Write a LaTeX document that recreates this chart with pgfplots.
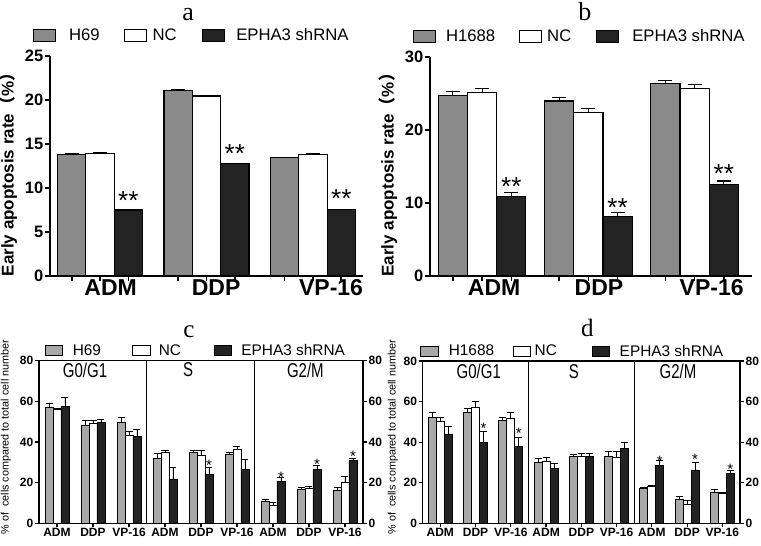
\documentclass[border=0pt]{standalone}
\usepackage{fontspec}
\setmainfont{Liberation Sans}
\newfontfamily\serifT{Liberation Serif}
\newfontfamily\cjk{Noto Sans CJK SC}
\usepackage{graphicx}
\usepackage{pgfplots}
\pgfplotsset{compat=1.18}
\definecolor{gA}{HTML}{8A8A8A}
\definecolor{gC}{HTML}{A8A8A8}
\definecolor{dk}{HTML}{232323}
\newcommand{\fs}[1]{\fontsize{#1bp}{#1bp}\selectfont}
\newcommand{\gap}[1]{\rule{#1bp}{0pt}}
\pgfplotsset{
  legAB/.style={legend image code/.code={\draw[##1] (0bp,-6bp) rectangle (22bp,6bp);}},
  legCD/.style={legend image code/.code={\draw[##1] (0bp,-5bp) rectangle (17.5bp,5bp);}},
  common/.style={scale only axis, anchor=south west, clip=false,
    /pgf/number format/assume math mode=true, tick align=outside,
    legend columns=3,
    legend style={draw=none, fill=none, inner sep=0pt, outer sep=0pt, anchor=west,
      nodes={inner sep=0pt, outer sep=0pt},
      /tikz/every even column/.style={column sep=0pt},
      /tikz/every odd column/.style={column sep=0pt}},
    legend cell align=left},
  abax/.style={common, axis x line*=bottom, axis y line*=left,
    axis line style={line width=1.8bp, black}, major tick length=5bp,
    tick style={line width=1.6bp, black}, ymin=0,
    yticklabel style={font=\fs{16.5}\bfseries, inner sep=1.5bp},
    xticklabels={},
    extra x tick style={major tick length=0pt, xticklabel style={font=\fs{23}\bfseries, inner sep=3bp}},
    extra x tick labels={ADM,DDP,VP-16},
    legAB, legend style={font=\fs{16.7}},
    ylabel style={font=\fs{17}\bfseries, anchor=center},
    title style={font=\serifT\fs{26}, anchor=center, yshift=-6pt}},
  errAB/.style={error bars/.cd, y dir=plus, y explicit,
    error bar style={line width=1.1bp, black},
    error mark options={rotate=90, line width=1.1bp, mark size=7bp, black}},
  errCD/.style={error bars/.cd, y dir=plus, y explicit,
    error bar style={line width=0.8bp, black},
    error mark options={rotate=90, line width=0.8bp, mark size=3.5bp, black}},
  cdax/.style={common, xmin=-0.5, xmax=8.5, ymin=0, ymax=80, ytick={0,20,...,80},
    ytick pos=left, xtick pos=left, xtick={0,...,8},
    xticklabels={ADM,DDP,VP-16,ADM,DDP,VP-16,ADM,DDP,VP-16},
    major tick length=4bp, axis line style={line width=1.3bp, black},
    tick style={line width=1.2bp, black},
    yticklabel style={font=\fs{12}\bfseries, inner sep=1.5bp},
    xticklabel style={font=\fs{12}\bfseries, inner sep=1bp},
    extra x ticks={2.5,5.5}, extra x tick labels={},
    extra x tick style={grid=major, major grid style={black, line width=1bp}, major tick length=0pt},
    legCD, legend style={font=\fs{15.4}},
    ylabel style={font=\fs{10.8}, anchor=center},
    title style={font=\serifT\fs{25}, anchor=center, yshift=-6pt}},
  cdright/.style={scale only axis, anchor=south west, xmin=0, xmax=1, ymin=0, ymax=80,
    ytick={0,20,...,80}, axis x line=none, axis y line*=right, tick align=outside,
    /pgf/number format/assume math mode=true,
    major tick length=4bp, axis line style={line width=1.3bp, black},
    tick style={line width=1.2bp, black},
    yticklabel style={font=\fs{12}\bfseries, inner sep=1.5bp}},
  starsAB/.style={only marks, mark=none, nodes near coords, point meta=explicit symbolic,
    nodes near coords style={anchor=base, font=\fs{26}, inner sep=0pt, black}},
  starsCD/.style={only marks, mark=none, nodes near coords, point meta=explicit symbolic,
    nodes near coords style={anchor=base, font=\fs{15}, inner sep=0pt, black}},
}
\begin{document}
\begin{tikzpicture}
\path[use as bounding box] (0bp,0bp) rectangle (761bp,-546bp);

% ---------------- panel a ----------------
\begin{axis}[abax, at={(50bp,-276bp)}, width=313bp, height=220bp,
  xmin=-0.47, xmax=2.47, ymax=25, ytick={0,5,...,25},
  xtick={-0.266,0,0.266,0.734,1,1.266,1.734,2,2.266},
  extra x ticks={0.10,1.09,2.17},
  ylabel={Early apoptosis rate{\cjk （}\%{\cjk ）}},
  ylabel style={at={(axis description cs:-0.134,0.48)}},
  title={a}, title style={at={(axis description cs:0.441,1.19)}},
  legend style={at={(-0.0543,1.093)}}]
\addlegendimage{fill=gA, draw=black, line width=1bp}\addlegendentry{\gap{13}H69\gap{24}}
\addlegendimage{fill=white, draw=black, line width=1bp}\addlegendentry{\gap{6}NC\gap{25.5}}
\addlegendimage{fill=dk, draw=black, line width=1bp}\addlegendentry{\gap{11}EPHA3 shRNA}
\addplot[ybar, bar width=0.266, bar shift=0, fill=gA, draw=black, line width=1.1bp, errAB]
  coordinates {(-0.266,13.85) +- (0,0.05) (0.734,21.1) +- (0,0.05) (1.734,13.45) +- (0,0.05)};
\addplot[ybar, bar width=0.266, bar shift=0, fill=white, draw=black, line width=1.1bp, errAB]
  coordinates {(0,13.95) +- (0,0.05) (1,20.45) +- (0,0.05) (2,13.85) +- (0,0.05)};
\addplot[ybar, bar width=0.266, bar shift=0, fill=dk, draw=black, line width=1.1bp, errAB]
  coordinates {(0.266,7.5) +- (0,0.05) (1.266,12.75) +- (0,0.05) (2.266,7.55) +- (0,0.05)};
\addplot[starsAB] coordinates {(0.266,7.6) [**] (1.266,12.9) [**] (2.266,7.8) [**]};
\end{axis}

% ---------------- panel b ----------------
\begin{axis}[abax, at={(430bp,-276bp)}, width=322bp, height=219.3bp,
  xmin=-0.49, xmax=2.54, ymax=30, ytick={0,10,20,30},
  xtick={-0.275,0,0.275,0.725,1,1.275,1.725,2,2.275},
  extra x ticks={0.113,1.10,2.16},
  ylabel={Early apoptosis rate{\cjk （}\%{\cjk ）}},
  ylabel style={at={(axis description cs:-0.130,0.48)}},
  title={b}, title style={at={(axis description cs:0.481,1.205)}},
  legend style={at={(-0.0528,1.094)}}]
\addlegendimage{fill=gA, draw=black, line width=1bp}\addlegendentry{\gap{10}H1688\gap{24}}
\addlegendimage{fill=white, draw=black, line width=1bp}\addlegendentry{\gap{5}NC\gap{25}}
\addlegendimage{fill=dk, draw=black, line width=1bp}\addlegendentry{\gap{13}EPHA3 shRNA}
\addplot[ybar, bar width=0.275, bar shift=0, fill=gA, draw=black, line width=1.1bp, errAB]
  coordinates {(-0.275,24.67) +- (0,0.55) (0.725,23.94) +- (0,0.5) (1.725,26.3) +- (0,0.5)};
\addplot[ybar, bar width=0.275, bar shift=0, fill=white, draw=black, line width=1.1bp, errAB]
  coordinates {(0,25.1) +- (0,0.5) (1,22.4) +- (0,0.55) (2,25.7) +- (0,0.55)};
\addplot[ybar, bar width=0.275, bar shift=0, fill=dk, draw=black, line width=1.1bp, errAB]
  coordinates {(0.275,10.85) +- (0,0.55) (1.275,8.2) +- (0,0.5) (2.275,12.5) +- (0,0.5)};
\addplot[starsAB] coordinates {(0.275,10.95) [**] (1.275,8.2) [**] (2.275,12.8) [**]};
\end{axis}

% ---------------- panel c ----------------
\begin{axis}[cdax, at={(39bp,-523.3bp)}, width=324bp, height=162.6bp,
  ylabel={\% of\ \ cells compared to total cell number},
  ylabel style={at={(axis description cs:-0.102,0.53)}},
  title={c}, title style={at={(axis description cs:0.463,1.18)}},
  legend style={at={(0.0185,1.063)}}]
\addlegendimage{fill=gC, draw=black, line width=0.8bp}\addlegendentry{\gap{9.5}H69\gap{31}}
\addlegendimage{fill=white, draw=black, line width=0.8bp}\addlegendentry{\gap{8.5}NC\gap{32.5}}
\addlegendimage{fill=dk, draw=black, line width=0.8bp}\addlegendentry{\gap{9.5}EPHA3 shRNA}
\addplot[ybar, bar width=0.222, bar shift=0, fill=gC, draw=black, line width=0.8bp, errCD]
  coordinates {(-0.222,57.0) +- (0,2.0) (0.778,48.4) +- (0,2.1) (1.778,49.7) +- (0,2.4)
               (2.778,32.0) +- (0,2.5) (3.778,34.9) +- (0,1.1) (4.778,34.1) +- (0,1.0)
               (5.778,10.8) +- (0,1.1) (6.778,16.9) +- (0,1.0) (7.778,16.4) +- (0,1.1)};
\addplot[ybar, bar width=0.222, bar shift=0, fill=white, draw=black, line width=0.8bp, errCD]
  coordinates {(0,56.1) +- (0,0.5) (1,49.2) +- (0,1.6) (2,43.4) +- (0,2.0)
               (3,34.9) +- (0,1.1) (4,33.6) +- (0,2.3) (5,36.6) +- (0,1.1)
               (6,9.0) +- (0,1.1) (7,17.4) +- (0,0.7) (8,20.2) +- (0,2.8)};
\addplot[ybar, bar width=0.222, bar shift=0, fill=dk, draw=black, line width=0.8bp, errCD]
  coordinates {(0.222,57.5) +- (0,4.4) (1.222,49.5) +- (0,1.6) (2.222,42.9) +- (0,3.3)
               (3.222,21.8) +- (0,5.7) (4.222,24.1) +- (0,3.4) (5.222,26.7) +- (0,4.8)
               (6.222,20.8) +- (0,1.6) (7.222,26.6) +- (0,2.1) (8.222,30.8) +- (0,1.1)};
\addplot[starsCD] coordinates {(4.222,26.0) [*] (6.222,20.3) [*] (7.222,26.5) [*] (8.222,30.2) [*]};
\node[font=\fs{20}] at (axis cs:0.78,75.4) {\scalebox{0.75}[1]{G0/G1}};
\node[font=\fs{20}] at (axis cs:3.64,75.4) {\scalebox{0.75}[1]{S}};
\node[font=\fs{20}] at (axis cs:6.90,75.4) {\scalebox{0.75}[1]{G2/M}};
\end{axis}
\begin{axis}[cdright, at={(39bp,-523.3bp)}, width=324bp, height=162.6bp]
\end{axis}

% ---------------- panel d ----------------
\begin{axis}[cdax, at={(422.7bp,-523.3bp)}, width=317.3bp, height=162.3bp,
  ylabel={\% of\ \ cells compared to total cell number},
  ylabel style={at={(axis description cs:-0.094,0.53)}},
  title={d}, title style={at={(axis description cs:0.519,1.205)}},
  legend style={at={(-0.0085,1.060)}}]
\addlegendimage{fill=gC, draw=black, line width=0.8bp}\addlegendentry{\gap{10.5}H1688\gap{18.7}}
\addlegendimage{fill=white, draw=black, line width=0.8bp}\addlegendentry{\gap{3.5}NC\gap{35}}
\addlegendimage{fill=dk, draw=black, line width=0.8bp}\addlegendentry{\gap{9.5}EPHA3 shRNA}
\addplot[ybar, bar width=0.227, bar shift=0, fill=gC, draw=black, line width=0.8bp, errCD]
  coordinates {(-0.227,52.1) +- (0,2.5) (0.773,54.7) +- (0,2.1) (1.773,50.9) +- (0,1.5)
               (2.773,30.2) +- (0,1.8) (3.773,33.0) +- (0,1.0) (4.773,33.0) +- (0,2.6)
               (5.773,17.4) +- (0,0.5) (6.773,12.0) +- (0,1.1) (7.773,15.3) +- (0,1.5)};
\addplot[ybar, bar width=0.227, bar shift=0, fill=white, draw=black, line width=0.8bp, errCD]
  coordinates {(0,50.4) +- (0,1.6) (1,57.0) +- (0,3.3) (2,51.9) +- (0,2.8)
               (3,30.4) +- (0,2.1) (4,33.0) +- (0,1.5) (5,32.5) +- (0,3.1)
               (6,18.2) +- (0,0.7) (7,9.5) +- (0,1.6) (8,14.8) +- (0,0.5)};
\addplot[ybar, bar width=0.227, bar shift=0, fill=dk, draw=black, line width=0.8bp, errCD]
  coordinates {(0.227,44.0) +- (0,3.9) (1.227,39.9) +- (0,5.6) (2.227,37.8) +- (0,4.6)
               (3.227,27.1) +- (0,2.3) (4.227,33.0) +- (0,1.6) (5.227,36.9) +- (0,3.0)
               (6.227,28.7) +- (0,2.1) (7.227,26.3) +- (0,3.8) (8.227,24.5) +- (0,1.6)};
\addplot[starsCD] coordinates {(1.227,44.1) [*] (2.227,41.7) [*] (6.227,28.2) [*] (7.227,29.0) [*] (8.227,24.1) [*]};
\node[font=\fs{20}] at (axis cs:1.09,74.7) {\scalebox{0.75}[1]{G0/G1}};
\node[font=\fs{20}] at (axis cs:3.79,74.7) {\scalebox{0.75}[1]{S}};
\node[font=\fs{20}] at (axis cs:6.74,74.7) {\scalebox{0.75}[1]{G2/M}};
\end{axis}
\begin{axis}[cdright, at={(422.7bp,-523.3bp)}, width=317.3bp, height=162.3bp]
\end{axis}
\end{tikzpicture}
\end{document}
